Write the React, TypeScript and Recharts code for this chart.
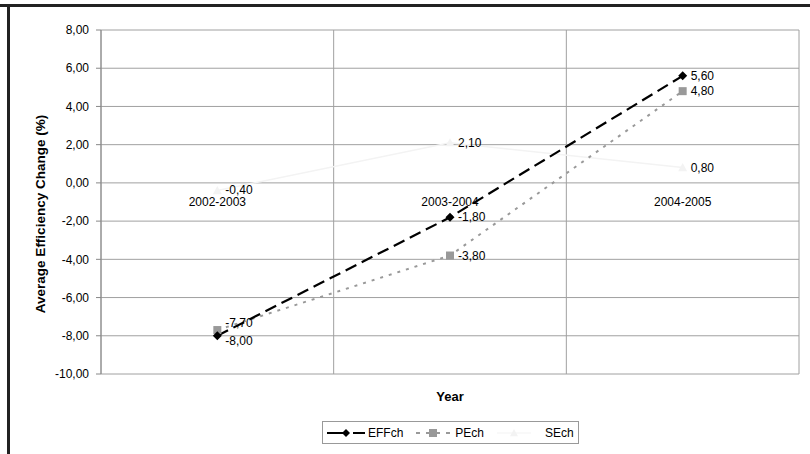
import React from 'react';
import { LineChart, Line, XAxis, YAxis, CartesianGrid, LabelList, Label } from 'recharts';

const years = ['2002-2003', '2003-2004', '2004-2005'];
const effch = [-8.0, -1.8, 5.6];
const pech = [-7.7, -3.8, 4.8];
const sech = [-0.4, 2.1, 0.8];
const yTicks = [-10, -8, -6, -4, -2, 0, 2, 4, 6, 8];

const FONT = '"Liberation Sans", Arial, sans-serif';
const SE_COLOR = '#f3f3f3';
const PE_COLOR = '#999999';
const GRID = '#a0a0a0';

const data = years.map((year, i) => ({ year, EFFch: effch[i], PEch: pech[i], SEch: sech[i] }));

const fmt = (v: number) => Number(v).toFixed(2).replace('.', ',');

const diamond = (cx: number, cy: number, r: number) =>
  `M${cx},${cy - r} L${cx + r},${cy} L${cx},${cy + r} L${cx - r},${cy} Z`;
const triangle = (cx: number, cy: number, r: number) =>
  `M${cx},${cy - r} L${cx + r},${cy + r * 0.8} L${cx - r},${cy + r * 0.8} Z`;

const renderDiamond = (p: any) => <path key={`d-${p.index}`} d={diamond(p.cx, p.cy, 4.5)} fill="#000" />;
const renderSquare = (p: any) => (
  <rect key={`s-${p.index}`} x={p.cx - 4} y={p.cy - 4} width={8} height={8} fill={PE_COLOR} />
);
const renderTriangle = (p: any) => <path key={`t-${p.index}`} d={triangle(p.cx, p.cy, 4.5)} fill={SE_COLOR} />;

// value labels to the right of the points; the first point of a series may be nudged apart
const pointLabel = (firstDy: number) => (props: any) => {
  const x = props.viewBox?.x ?? props.x;
  const y = props.viewBox?.y ?? props.y;
  return (
    <text x={x + 8} y={y + (props.index === 0 ? firstDy : 0)} dy={4} fontSize={12} fontFamily={FONT} fill="#000">
      {fmt(props.value)}
    </text>
  );
};

// category names sit just under the zero line, as in the spreadsheet original
const yearLabel = (props: any) => {
  const x = props.viewBox?.x ?? props.x;
  const y = props.viewBox?.y ?? props.y;
  return (
    <text x={x} y={y + 23} textAnchor="middle" fontSize={12} fontFamily={FONT} fill="#000">
      {props.value}
    </text>
  );
};

const yTitle = (props: any) => {
  const vb = props.viewBox;
  const cx = 40;
  const cy = vb.y + vb.height / 2 + 12;
  return (
    <text
      x={cx}
      y={cy}
      transform={`rotate(-90, ${cx}, ${cy})`}
      textAnchor="middle"
      dominantBaseline="central"
      fontSize={13.5}
      fontWeight="bold"
      fontFamily={FONT}
      fill="#000"
    >
      Average Efficiency Change (%)
    </text>
  );
};

const verticalGrid = (props: any) => {
  const { offset } = props;
  const n = years.length;
  return Array.from({ length: n + 1 }, (_, i) => offset.left + (offset.width * i) / n);
};

const LegendBox = () => (
  <div
    style={{
      position: 'absolute',
      left: 322,
      top: 421,
      width: 255,
      height: 21,
      border: '1px solid #999',
      display: 'flex',
      alignItems: 'center',
      fontFamily: FONT,
      fontSize: 12,
      background: '#fff',
    }}
  >
    <svg width={38} height={12} style={{ marginLeft: 4 }}>
      <line x1={0} y1={6} x2={38} y2={6} stroke="#000" strokeWidth={2} strokeDasharray="22 4 12" />
      <path d={diamond(19, 6, 4)} fill="#000" />
    </svg>
    <span style={{ marginLeft: 3 }}>EFFch</span>
    <svg width={34} height={12} style={{ marginLeft: 13 }}>
      <line x1={0} y1={6} x2={34} y2={6} stroke={PE_COLOR} strokeWidth={2} strokeDasharray="4 6" />
      <rect x={13} y={2} width={8} height={8} fill={PE_COLOR} />
    </svg>
    <span style={{ marginLeft: 5 }}>PEch</span>
    <svg width={34} height={12} style={{ marginLeft: 13 }}>
      <line x1={0} y1={6} x2={34} y2={6} stroke={SE_COLOR} strokeWidth={1} />
      <path d={triangle(17, 6, 4)} fill={SE_COLOR} />
    </svg>
    <span style={{ marginLeft: 14 }}>SEch</span>
  </div>
);

export default function App() {
  return (
    <div style={{ position: 'absolute', left: 0, top: 0, width: 810, height: 454, background: '#fff' }}>
      <div style={{ position: 'absolute', left: 0, top: 4, width: 810, height: 3, background: '#222' }} />
      <div style={{ position: 'absolute', left: 7, top: 4, width: 3, height: 450, background: '#222' }} />
      <LineChart width={810} height={454} data={data} margin={{ top: 30, right: 11, left: 0, bottom: 80 }}>
        <CartesianGrid stroke={GRID} verticalCoordinatesGenerator={verticalGrid} />
        <XAxis dataKey="year" scale="band" hide />
        <YAxis
          domain={[-10, 8]}
          ticks={yTicks}
          width={101}
          interval={0}
          tickFormatter={fmt}
          tick={{ fontSize: 12, fontFamily: FONT, fill: '#000' }}
          tickSize={5}
          tickMargin={7}
          stroke="#888"
        >
          <Label content={yTitle} />
        </YAxis>
        <Line
          dataKey={() => 0}
          stroke="none"
          dot={false}
          activeDot={false}
          isAnimationActive={false}
          legendType="none"
        >
          <LabelList dataKey="year" content={yearLabel} />
        </Line>
        <Line
          dataKey="SEch"
          stroke={SE_COLOR}
          strokeWidth={1.5}
          dot={renderTriangle}
          activeDot={false}
          isAnimationActive={false}
        >
          <LabelList dataKey="SEch" content={pointLabel(-1)} />
        </Line>
        <Line
          dataKey="PEch"
          stroke={PE_COLOR}
          strokeWidth={2}
          strokeDasharray="3 6"
          dot={renderSquare}
          activeDot={false}
          isAnimationActive={false}
        >
          <LabelList dataKey="PEch" content={pointLabel(-7)} />
        </Line>
        <Line
          dataKey="EFFch"
          stroke="#000"
          strokeWidth={2.2}
          strokeDasharray="12 6"
          dot={renderDiamond}
          activeDot={false}
          isAnimationActive={false}
        >
          <LabelList dataKey="EFFch" content={pointLabel(5)} />
        </Line>
      </LineChart>
      <div
        style={{
          position: 'absolute',
          left: 0,
          width: 900,
          top: 389,
          textAlign: 'center',
          fontFamily: FONT,
          fontSize: 13,
          fontWeight: 'bold',
        }}
      >
        Year
      </div>
      <LegendBox />
    </div>
  );
}
